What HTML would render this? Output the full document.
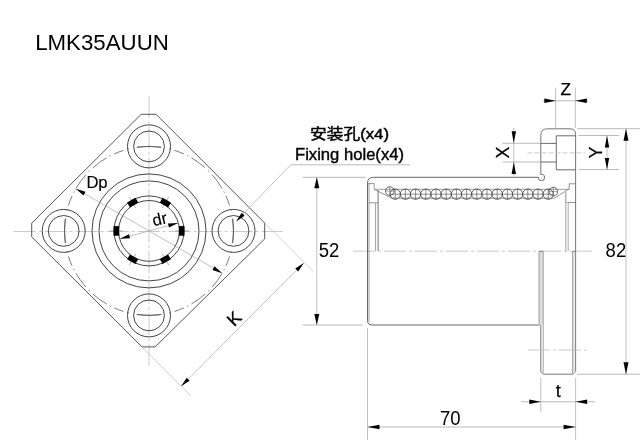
<!DOCTYPE html>
<html><head><meta charset="utf-8"><title>LMK35AUUN</title>
<style>html,body{margin:0;padding:0;background:#fff;}svg{display:block;will-change:transform;}</style>
</head><body>
<svg width="640" height="440" viewBox="0 0 640 440">
<rect width="640" height="440" fill="#fff"/>
<line x1="149.00" y1="96.00" x2="149.00" y2="366.00" stroke="#bdbdbd" stroke-width="0.8" stroke-dasharray="22 3 3 3"/>
<line x1="13.70" y1="231.50" x2="283.00" y2="231.50" stroke="#bdbdbd" stroke-width="0.8" stroke-dasharray="22 3 3 3"/>
<polygon points="141.20,114.30 156.10,114.30 264.70,223.00 264.70,238.90 155.20,346.90 142.00,346.90 31.70,236.90 31.70,223.20" fill="none" stroke="#444" stroke-width="0.9"/>
<circle cx="149.00" cy="230.90" r="84.50" fill="none" stroke="#5c5c5c" stroke-width="0.8" pathLength="530.8" stroke-dasharray="12.25 8.25 1.5 4 10 3.5 1.5 3.5 17 4.1 1.5 4.1 17 3.5 1.5 3.5 10 4 1.5 8.25 12.25 0"/>
<path d="M232.61,218.70 A84.5,84.5 0 0 1 232.61,243.10" fill="none" stroke="#555" stroke-width="0.8"/>
<path d="M161.20,314.51 A84.5,84.5 0 0 1 136.80,314.51" fill="none" stroke="#555" stroke-width="0.8"/>
<path d="M65.39,243.10 A84.5,84.5 0 0 1 65.39,218.70" fill="none" stroke="#555" stroke-width="0.8"/>
<path d="M136.80,147.29 A84.5,84.5 0 0 1 161.20,147.29" fill="none" stroke="#555" stroke-width="0.8"/>
<circle cx="233.50" cy="230.90" r="21.50" fill="none" stroke="#444" stroke-width="1.0" />
<circle cx="233.50" cy="230.90" r="15.40" fill="none" stroke="#444" stroke-width="1.0" />
<circle cx="149.00" cy="315.40" r="21.50" fill="none" stroke="#444" stroke-width="1.0" />
<circle cx="149.00" cy="315.40" r="15.40" fill="none" stroke="#444" stroke-width="1.0" />
<circle cx="63.70" cy="230.90" r="21.50" fill="none" stroke="#444" stroke-width="1.0" />
<circle cx="63.70" cy="230.90" r="15.40" fill="none" stroke="#444" stroke-width="1.0" />
<circle cx="149.00" cy="146.40" r="21.50" fill="none" stroke="#444" stroke-width="1.0" />
<circle cx="149.00" cy="146.40" r="15.40" fill="none" stroke="#444" stroke-width="1.0" />
<circle cx="149.00" cy="230.90" r="57.00" fill="none" stroke="#444" stroke-width="1.0" />
<circle cx="149.00" cy="230.90" r="50.00" fill="none" stroke="#444" stroke-width="1.0" />
<circle cx="149.00" cy="230.90" r="35.00" fill="none" stroke="#444" stroke-width="1.0" />
<circle cx="149.00" cy="230.90" r="30.40" fill="none" stroke="#444" stroke-width="1.0" />
<line x1="175.50" y1="230.90" x2="188.50" y2="230.90" stroke="#777" stroke-width="0.6" />
<rect x="29.90" y="-4.80" width="5.60" height="9.60" fill="#000" transform="translate(149.00,230.90) rotate(0)"/>
<line x1="162.25" y1="253.85" x2="168.75" y2="265.11" stroke="#777" stroke-width="0.6" />
<rect x="29.90" y="-4.80" width="5.60" height="9.60" fill="#000" transform="translate(149.00,230.90) rotate(60)"/>
<line x1="135.75" y1="253.85" x2="129.25" y2="265.11" stroke="#777" stroke-width="0.6" />
<rect x="29.90" y="-4.80" width="5.60" height="9.60" fill="#000" transform="translate(149.00,230.90) rotate(120)"/>
<line x1="122.50" y1="230.90" x2="109.50" y2="230.90" stroke="#777" stroke-width="0.6" />
<rect x="29.90" y="-4.80" width="5.60" height="9.60" fill="#000" transform="translate(149.00,230.90) rotate(180)"/>
<line x1="135.75" y1="207.95" x2="129.25" y2="196.69" stroke="#777" stroke-width="0.6" />
<rect x="29.90" y="-4.80" width="5.60" height="9.60" fill="#000" transform="translate(149.00,230.90) rotate(240)"/>
<line x1="162.25" y1="207.95" x2="168.75" y2="196.69" stroke="#777" stroke-width="0.6" />
<rect x="29.90" y="-4.80" width="5.60" height="9.60" fill="#000" transform="translate(149.00,230.90) rotate(300)"/>
<line x1="119.87" y1="238.87" x2="178.13" y2="222.93" stroke="#a8a8a8" stroke-width="0.7" />
<polygon points="119.87,238.87 128.96,234.20 130.07,238.26" fill="#000"/>
<polygon points="178.13,222.93 169.04,227.60 167.93,223.54" fill="#000"/>
<line x1="75.82" y1="188.65" x2="222.18" y2="273.15" stroke="#a8a8a8" stroke-width="0.7" />
<polygon points="75.82,188.65 85.53,191.83 83.43,195.47" fill="#000"/>
<polygon points="222.18,273.15 212.47,269.97 214.57,266.33" fill="#000"/>
<line x1="236.50" y1="221.00" x2="285.00" y2="170.50" stroke="#a8a8a8" stroke-width="0.7" />
<line x1="285.00" y1="170.50" x2="291.00" y2="164.80" stroke="#a8a8a8" stroke-width="0.7" />
<line x1="291.00" y1="164.80" x2="410.00" y2="164.80" stroke="#9c9c9c" stroke-width="0.7" />
<polygon points="236.20,221.40 241.64,212.75 244.66,215.67" fill="#000"/>
<line x1="264.70" y1="223.00" x2="313.40" y2="271.70" stroke="#c4c4c4" stroke-width="0.8" />
<line x1="142.00" y1="346.90" x2="190.90" y2="395.80" stroke="#c4c4c4" stroke-width="0.8" />
<line x1="181.10" y1="386.30" x2="303.80" y2="262.90" stroke="#a8a8a8" stroke-width="0.7" />
<polygon points="181.10,386.30 186.66,377.72 189.64,380.68" fill="#000"/>
<polygon points="303.80,262.90 298.24,271.48 295.26,268.52" fill="#000"/>
<line x1="302.50" y1="177.30" x2="366.00" y2="177.30" stroke="#9c9c9c" stroke-width="0.7" />
<line x1="302.50" y1="325.00" x2="362.50" y2="325.00" stroke="#9c9c9c" stroke-width="0.7" />
<line x1="316.80" y1="177.30" x2="316.80" y2="325.00" stroke="#a8a8a8" stroke-width="0.7" />
<polygon points="316.80,177.30 319.30,188.30 314.30,188.30" fill="#000"/>
<polygon points="316.80,325.00 314.30,314.00 319.30,314.00" fill="#000"/>
<line x1="353.00" y1="251.20" x2="592.00" y2="251.20" stroke="#bdbdbd" stroke-width="0.8" stroke-dasharray="22 3 3 3"/>
<path d="M538.6,177.3 H373.5 Q367.5,177.3 367.5,183.3 V320.5 Q367.5,325 372,325 H539.5 L541,323.5" fill="none" stroke="#555" stroke-width="0.9"/>
<line x1="369.00" y1="183.60" x2="369.00" y2="322.00" stroke="#777" stroke-width="0.7" />
<line x1="367.50" y1="183.60" x2="374.20" y2="183.60" stroke="#666" stroke-width="0.7" />
<line x1="369.00" y1="202.80" x2="378.10" y2="202.80" stroke="#666" stroke-width="0.7" />
<line x1="375.60" y1="202.80" x2="375.60" y2="251.00" stroke="#777" stroke-width="0.7" />
<line x1="378.10" y1="190.00" x2="378.10" y2="251.00" stroke="#666" stroke-width="0.9" />
<path d="M374.2,183.6 V189.3 H569.2" fill="none" stroke="#777" stroke-width="0.7"/>
<path d="M374.6,189.6 L392,198.2 H554.4" fill="none" stroke="#666" stroke-width="0.7"/>
<circle cx="395.20" cy="194.20" r="5.15" fill="none" stroke="#3a3a3a" stroke-width="0.75" />
<line x1="390.20" y1="194.20" x2="400.20" y2="194.20" stroke="#444" stroke-width="0.6" />
<line x1="395.20" y1="189.20" x2="395.20" y2="199.20" stroke="#444" stroke-width="0.6" />
<circle cx="405.40" cy="194.20" r="5.15" fill="none" stroke="#3a3a3a" stroke-width="0.75" />
<line x1="400.40" y1="194.20" x2="410.40" y2="194.20" stroke="#444" stroke-width="0.6" />
<line x1="405.40" y1="189.20" x2="405.40" y2="199.20" stroke="#444" stroke-width="0.6" />
<circle cx="415.60" cy="194.20" r="5.15" fill="none" stroke="#3a3a3a" stroke-width="0.75" />
<line x1="410.60" y1="194.20" x2="420.60" y2="194.20" stroke="#444" stroke-width="0.6" />
<line x1="415.60" y1="189.20" x2="415.60" y2="199.20" stroke="#444" stroke-width="0.6" />
<circle cx="425.80" cy="194.20" r="5.15" fill="none" stroke="#3a3a3a" stroke-width="0.75" />
<line x1="420.80" y1="194.20" x2="430.80" y2="194.20" stroke="#444" stroke-width="0.6" />
<line x1="425.80" y1="189.20" x2="425.80" y2="199.20" stroke="#444" stroke-width="0.6" />
<circle cx="436.00" cy="194.20" r="5.15" fill="none" stroke="#3a3a3a" stroke-width="0.75" />
<line x1="431.00" y1="194.20" x2="441.00" y2="194.20" stroke="#444" stroke-width="0.6" />
<line x1="436.00" y1="189.20" x2="436.00" y2="199.20" stroke="#444" stroke-width="0.6" />
<circle cx="446.20" cy="194.20" r="5.15" fill="none" stroke="#3a3a3a" stroke-width="0.75" />
<line x1="441.20" y1="194.20" x2="451.20" y2="194.20" stroke="#444" stroke-width="0.6" />
<line x1="446.20" y1="189.20" x2="446.20" y2="199.20" stroke="#444" stroke-width="0.6" />
<circle cx="456.40" cy="194.20" r="5.15" fill="none" stroke="#3a3a3a" stroke-width="0.75" />
<line x1="451.40" y1="194.20" x2="461.40" y2="194.20" stroke="#444" stroke-width="0.6" />
<line x1="456.40" y1="189.20" x2="456.40" y2="199.20" stroke="#444" stroke-width="0.6" />
<circle cx="466.60" cy="194.20" r="5.15" fill="none" stroke="#3a3a3a" stroke-width="0.75" />
<line x1="461.60" y1="194.20" x2="471.60" y2="194.20" stroke="#444" stroke-width="0.6" />
<line x1="466.60" y1="189.20" x2="466.60" y2="199.20" stroke="#444" stroke-width="0.6" />
<circle cx="476.80" cy="194.20" r="5.15" fill="none" stroke="#3a3a3a" stroke-width="0.75" />
<line x1="471.80" y1="194.20" x2="481.80" y2="194.20" stroke="#444" stroke-width="0.6" />
<line x1="476.80" y1="189.20" x2="476.80" y2="199.20" stroke="#444" stroke-width="0.6" />
<circle cx="487.00" cy="194.20" r="5.15" fill="none" stroke="#3a3a3a" stroke-width="0.75" />
<line x1="482.00" y1="194.20" x2="492.00" y2="194.20" stroke="#444" stroke-width="0.6" />
<line x1="487.00" y1="189.20" x2="487.00" y2="199.20" stroke="#444" stroke-width="0.6" />
<circle cx="497.20" cy="194.20" r="5.15" fill="none" stroke="#3a3a3a" stroke-width="0.75" />
<line x1="492.20" y1="194.20" x2="502.20" y2="194.20" stroke="#444" stroke-width="0.6" />
<line x1="497.20" y1="189.20" x2="497.20" y2="199.20" stroke="#444" stroke-width="0.6" />
<circle cx="507.40" cy="194.20" r="5.15" fill="none" stroke="#3a3a3a" stroke-width="0.75" />
<line x1="502.40" y1="194.20" x2="512.40" y2="194.20" stroke="#444" stroke-width="0.6" />
<line x1="507.40" y1="189.20" x2="507.40" y2="199.20" stroke="#444" stroke-width="0.6" />
<circle cx="517.60" cy="194.20" r="5.15" fill="none" stroke="#3a3a3a" stroke-width="0.75" />
<line x1="512.60" y1="194.20" x2="522.60" y2="194.20" stroke="#444" stroke-width="0.6" />
<line x1="517.60" y1="189.20" x2="517.60" y2="199.20" stroke="#444" stroke-width="0.6" />
<circle cx="527.80" cy="194.20" r="5.15" fill="none" stroke="#3a3a3a" stroke-width="0.75" />
<line x1="522.80" y1="194.20" x2="532.80" y2="194.20" stroke="#444" stroke-width="0.6" />
<line x1="527.80" y1="189.20" x2="527.80" y2="199.20" stroke="#444" stroke-width="0.6" />
<circle cx="538.00" cy="194.20" r="5.15" fill="none" stroke="#3a3a3a" stroke-width="0.75" />
<line x1="533.00" y1="194.20" x2="543.00" y2="194.20" stroke="#444" stroke-width="0.6" />
<line x1="538.00" y1="189.20" x2="538.00" y2="199.20" stroke="#444" stroke-width="0.6" />
<circle cx="548.20" cy="194.20" r="5.15" fill="none" stroke="#3a3a3a" stroke-width="0.75" />
<line x1="543.20" y1="194.20" x2="553.20" y2="194.20" stroke="#444" stroke-width="0.6" />
<line x1="548.20" y1="189.20" x2="548.20" y2="199.20" stroke="#444" stroke-width="0.6" />
<circle cx="389.80" cy="191.10" r="4.35" fill="none" stroke="#3a3a3a" stroke-width="0.75" />
<line x1="385.50" y1="191.10" x2="394.10" y2="191.10" stroke="#555" stroke-width="0.5" />
<line x1="389.80" y1="186.80" x2="389.80" y2="195.40" stroke="#555" stroke-width="0.5" />
<circle cx="553.30" cy="191.60" r="4.35" fill="none" stroke="#3a3a3a" stroke-width="0.75" />
<line x1="549.00" y1="191.60" x2="557.60" y2="191.60" stroke="#555" stroke-width="0.5" />
<line x1="553.30" y1="187.30" x2="553.30" y2="195.90" stroke="#555" stroke-width="0.5" />
<path d="M575.6,183.8 H569.2 V189.3 L568,189.6 L554.4,198.2" fill="none" stroke="#666" stroke-width="0.7"/>
<line x1="565.80" y1="191.80" x2="565.80" y2="251.00" stroke="#666" stroke-width="0.7" />
<line x1="568.20" y1="202.50" x2="568.20" y2="251.00" stroke="#777" stroke-width="0.7" />
<line x1="565.80" y1="202.50" x2="575.60" y2="202.50" stroke="#666" stroke-width="0.7" />
<path d="M540.8,174.5 V135.3 Q540.8,128.8 547.3,128.8 H570.1 Q575.6,128.8 575.6,134.3 V371.5 L573,374.2 H543.5 L540.8,371.5 V325" fill="none" stroke="#666" stroke-width="0.9"/>
<path d="M540.8,174.5 A3.1,3.1 0 1 1 538.4,177.3" fill="none" stroke="#5c5c5c" stroke-width="0.9"/>
<rect x="539" y="251.3" width="4.2" height="73.5" fill="#dedede"/>
<rect x="565.8" y="202.5" width="2.4" height="48.7" fill="#e4e4e4"/>
<line x1="539.00" y1="251.30" x2="539.00" y2="324.60" stroke="#8a8a8a" stroke-width="0.8" />
<line x1="543.20" y1="251.30" x2="543.20" y2="373.00" stroke="#8a8a8a" stroke-width="0.8" />
<line x1="539.00" y1="251.30" x2="543.20" y2="251.30" stroke="#666" stroke-width="0.8" />
<rect x="572.6" y="251.3" width="2.5" height="121" fill="#e4e4e4"/>
<line x1="572.60" y1="251.30" x2="572.60" y2="373.00" stroke="#8a8a8a" stroke-width="0.8" />
<line x1="572.60" y1="251.30" x2="575.60" y2="251.30" stroke="#777" stroke-width="0.8" />
<path d="M575.6,135.8 H556.3 V169.8 H575.6 M556.3,143.4 H540.8 M556.3,162 H540.8" fill="none" stroke="#5c5c5c" stroke-width="0.9"/>
<line x1="527.50" y1="152.90" x2="585.00" y2="152.90" stroke="#bdbdbd" stroke-width="0.8" stroke-dasharray="5 2"/>
<line x1="528.00" y1="350.00" x2="587.00" y2="350.00" stroke="#bdbdbd" stroke-width="0.8" stroke-dasharray="22 3 3 3"/>
<line x1="555.60" y1="87.50" x2="555.60" y2="127.80" stroke="#a8a8a8" stroke-width="0.7" />
<line x1="575.40" y1="87.50" x2="575.40" y2="127.80" stroke="#a8a8a8" stroke-width="0.7" />
<line x1="543.00" y1="100.80" x2="588.00" y2="100.80" stroke="#9c9c9c" stroke-width="0.7" />
<polygon points="555.80,100.80 544.30,103.00 544.30,98.60" fill="#000"/>
<polygon points="575.30,100.80 586.80,98.60 586.80,103.00" fill="#000"/>
<line x1="502.50" y1="143.30" x2="540.00" y2="143.30" stroke="#9c9c9c" stroke-width="0.7" />
<line x1="502.50" y1="162.00" x2="540.00" y2="162.00" stroke="#9c9c9c" stroke-width="0.7" />
<line x1="513.80" y1="128.00" x2="513.80" y2="176.00" stroke="#a8a8a8" stroke-width="0.7" />
<polygon points="513.80,143.30 511.60,131.30 516.00,131.30" fill="#000"/>
<polygon points="513.80,162.00 516.00,174.00 511.60,174.00" fill="#000"/>
<line x1="578.50" y1="135.50" x2="619.00" y2="135.50" stroke="#9c9c9c" stroke-width="0.7" />
<line x1="578.50" y1="169.50" x2="619.00" y2="169.50" stroke="#9c9c9c" stroke-width="0.7" />
<line x1="607.00" y1="135.50" x2="607.00" y2="169.50" stroke="#a8a8a8" stroke-width="0.7" />
<polygon points="607.00,135.50 609.20,147.50 604.80,147.50" fill="#000"/>
<polygon points="607.00,169.50 604.80,158.00 609.20,158.00" fill="#000"/>
<line x1="577.00" y1="128.70" x2="640.00" y2="128.70" stroke="#9c9c9c" stroke-width="0.7" />
<line x1="577.00" y1="374.20" x2="640.00" y2="374.20" stroke="#9c9c9c" stroke-width="0.7" />
<line x1="626.00" y1="128.70" x2="626.00" y2="374.20" stroke="#a8a8a8" stroke-width="0.7" />
<polygon points="626.00,128.70 628.50,140.70 623.50,140.70" fill="#000"/>
<polygon points="626.00,374.20 623.50,362.20 628.50,362.20" fill="#000"/>
<line x1="540.80" y1="377.50" x2="540.80" y2="412.50" stroke="#a8a8a8" stroke-width="0.7" />
<line x1="575.60" y1="377.50" x2="575.60" y2="440.00" stroke="#a8a8a8" stroke-width="0.7" />
<line x1="521.00" y1="401.80" x2="595.00" y2="401.80" stroke="#9c9c9c" stroke-width="0.7" />
<polygon points="540.80,401.80 529.30,404.00 529.30,399.60" fill="#000"/>
<polygon points="575.60,401.80 587.10,399.60 587.10,404.00" fill="#000"/>
<line x1="367.50" y1="328.00" x2="367.50" y2="440.00" stroke="#a8a8a8" stroke-width="0.7" />
<line x1="367.50" y1="427.00" x2="575.60" y2="427.00" stroke="#9c9c9c" stroke-width="0.7" />
<polygon points="367.50,427.00 379.50,424.80 379.50,429.20" fill="#000"/>
<polygon points="575.60,427.00 563.60,429.20 563.60,424.80" fill="#000"/>
<text x="35.2" y="49.5" font-family="'Liberation Sans', sans-serif" font-size="22.9" textLength="133.6" lengthAdjust="spacingAndGlyphs" fill="#000">LMK35AUUN</text>
<text x="310" y="138.5" font-family="'Liberation Sans', 'Noto Sans CJK SC', sans-serif" font-size="15" textLength="79" lengthAdjust="spacingAndGlyphs" fill="#000" stroke="#000" stroke-width="0.45">安装孔(x4)</text>
<text x="295" y="159.5" font-family="'Liberation Sans', sans-serif" font-size="16.3" textLength="109" lengthAdjust="spacingAndGlyphs" fill="#000" stroke="#000" stroke-width="0.4">Fixing hole(x4)</text>
<text x="86.4" y="188.0" font-family="'Liberation Sans', sans-serif" font-size="16.6" fill="#000" stroke="#000" stroke-width="0.15">Dp</text>
<text transform="translate(153.8,226.2) rotate(-13)" font-family="'Liberation Sans', sans-serif" font-size="16.5" fill="#000" stroke="#000" stroke-width="0.15">dr</text>
<text x="318.7" y="257" font-family="'Liberation Sans', sans-serif" font-size="19.5" textLength="20.6" lengthAdjust="spacingAndGlyphs" fill="#000">52</text>
<text x="605.6" y="257.1" font-family="'Liberation Sans', sans-serif" font-size="19.5" textLength="20.6" lengthAdjust="spacingAndGlyphs" fill="#000">82</text>
<text x="440" y="424.6" font-family="'Liberation Sans', sans-serif" font-size="19.5" textLength="20.6" lengthAdjust="spacingAndGlyphs" fill="#000">70</text>
<text x="565.8" y="95.2" font-family="'Liberation Sans', sans-serif" font-size="17.2" text-anchor="middle" fill="#000" stroke="#000" stroke-width="0.25">Z</text>
<text x="558.3" y="396.8" font-family="'Liberation Sans', sans-serif" font-size="18" text-anchor="middle" fill="#000" stroke="#000" stroke-width="0.25">t</text>
<text transform="translate(508.8,152.5) rotate(-90)" font-family="'Liberation Sans', sans-serif" font-size="18" text-anchor="middle" fill="#000" stroke="#000" stroke-width="0.25">X</text>
<text transform="translate(601.8,152.5) rotate(-90)" font-family="'Liberation Sans', sans-serif" font-size="18" text-anchor="middle" fill="#000" stroke="#000" stroke-width="0.25">Y</text>
<text transform="translate(238.6,323.1) rotate(-45)" font-family="'Liberation Sans', sans-serif" font-size="18" text-anchor="middle" fill="#000" stroke="#000" stroke-width="0.25">K</text>
</svg>
</body></html>
